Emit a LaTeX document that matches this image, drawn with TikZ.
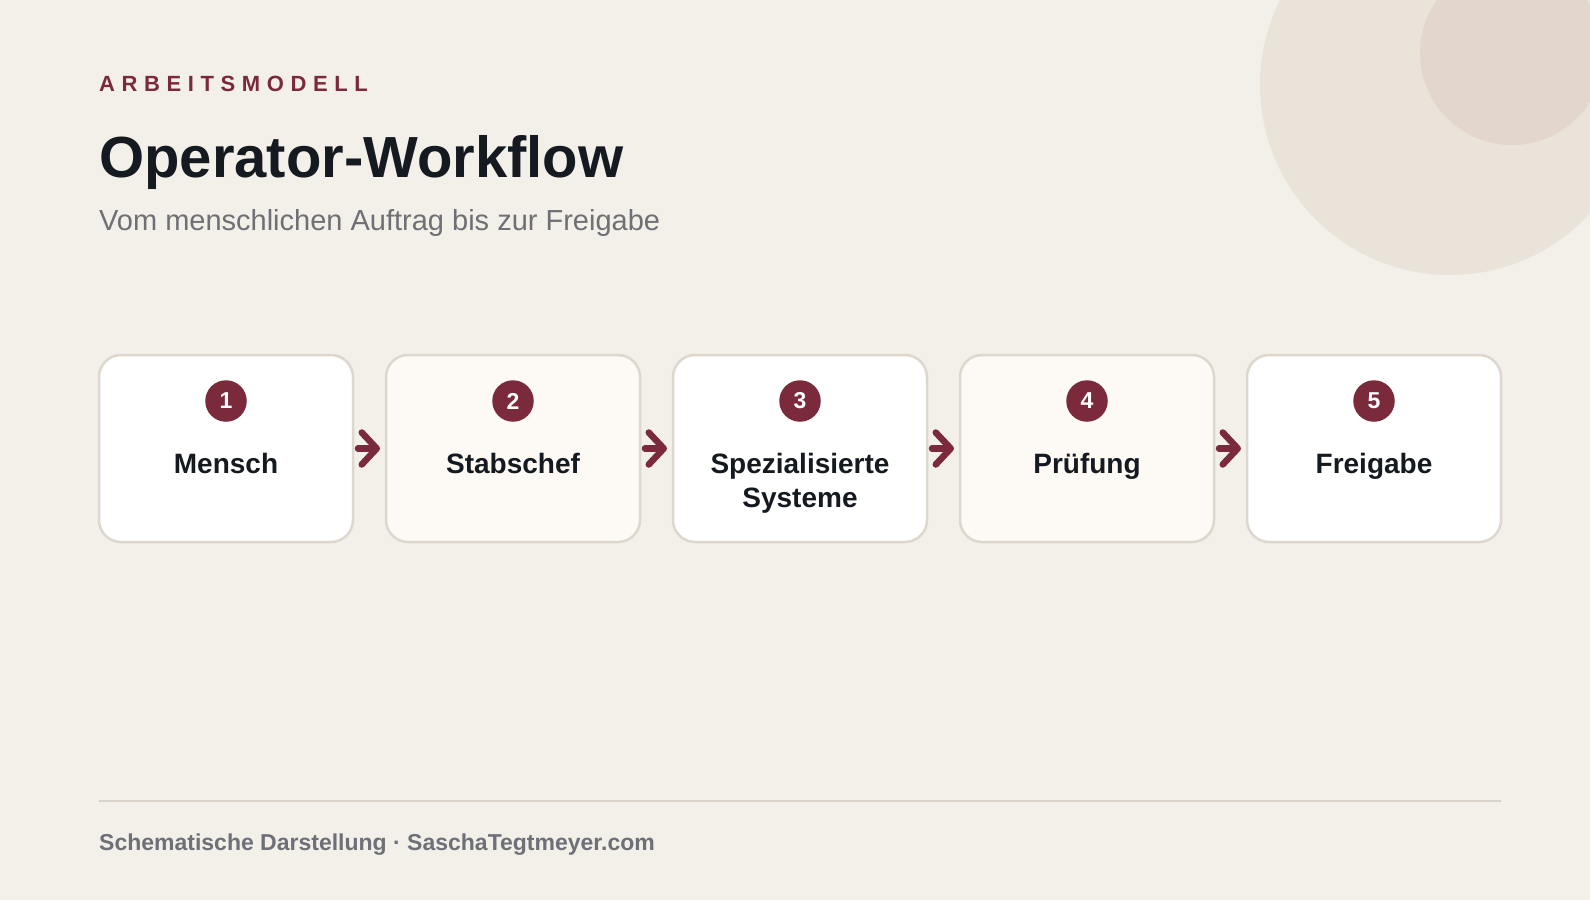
\documentclass[tikz,border=0pt]{standalone}
\usepackage{fontspec}
\setmainfont{Liberation Sans}
\newfontfamily\trackfont[LetterSpace=30]{Liberation Sans}
\usetikzlibrary{positioning,arrows.meta}

\definecolor{pagebg}{HTML}{F3F0EA}
\definecolor{blobbig}{HTML}{EAE3DA}
\definecolor{blobsmall}{HTML}{E2D6CD}
\definecolor{wine}{HTML}{7A2A3A}
\definecolor{ink}{HTML}{151A21}
\definecolor{subgray}{HTML}{6F6F74}
\definecolor{footgray}{HTML}{6E7077}
\definecolor{boxline}{HTML}{DED7CD}
\definecolor{boxwarm}{HTML}{FDFAF5}
\definecolor{rulecol}{HTML}{D8D2C8}

\tikzset{
  stepbox/.style={draw=boxline, line width=2.5pt, rounded corners=22pt,
    minimum width=254pt, minimum height=187pt, inner sep=0pt, outer sep=0pt},
  stepnum/.style={circle, fill=wine, text=white, minimum size=41.5pt, inner sep=0pt,
    font=\fontsize{23}{23}\selectfont\bfseries},
  steplabel/.style={text=ink, align=center, anchor=base,
    font=\fontsize{28}{34}\selectfont\bfseries},
  flowarrow/.style={draw=wine, line width=6.5pt, line cap=round,
    -{Straight Barb[length=15pt,width=32pt,round]}, shorten <=5pt, shorten >=6pt}
}

\begin{document}
\begin{tikzpicture}[x=1pt,y=-1pt]
  \useasboundingbox (0,0) rectangle (1590,900);
  \fill[pagebg] (0,0) rectangle (1590,900);
  % decoration top right
  \begin{scope}
    \clip (0,0) rectangle (1590,900);
    \fill[blobbig] (1450,85) circle[radius=190pt];
    \fill[blobsmall] (1512,53) circle[radius=92pt];
  \end{scope}

  % header
  \node[anchor=base west, inner sep=0pt, text=wine] (kicker) at (99,91)
    {\fontsize{22}{22}\selectfont\trackfont\bfseries ARBEITSMODELL};
  \node[anchor=base west, inner sep=0pt, text=ink] (title) at (99,177)
    {\fontsize{58}{58}\selectfont\bfseries Operator-Workflow};
  \node[anchor=base west, inner sep=0pt, text=subgray] (subtitle) at (99,230)
    {\fontsize{29}{29}\selectfont Vom menschlichen Auftrag bis zur Freigabe};

  % steps
  \node[stepbox, fill=white] (m1) at (226,448.5) {};
  \node[stepbox, fill=boxwarm, right=33pt of m1] (m2) {};
  \node[stepbox, fill=white, right=33pt of m2] (m3) {};
  \node[stepbox, fill=boxwarm, right=33pt of m3] (m4) {};
  \node[stepbox, fill=white, right=33pt of m4] (m5) {};

  \node[stepnum] (n1) at ([yshift=-46pt]m1.north) {1};
  \node[stepnum] (n2) at ([yshift=-46pt]m2.north) {2};
  \node[stepnum] (n3) at ([yshift=-46pt]m3.north) {3};
  \node[stepnum] (n4) at ([yshift=-46pt]m4.north) {4};
  \node[stepnum] (n5) at ([yshift=-46pt]m5.north) {5};

  \node[steplabel] (l1) at ([yshift=-118pt]m1.north) {Mensch};
  \node[steplabel] (l2) at ([yshift=-118pt]m2.north) {Stabschef};
  \node[steplabel] (l3) at ([yshift=-152pt]m3.north) {Spezialisierte\\Systeme};
  \node[steplabel] (l4) at ([yshift=-118pt]m4.north) {Prüfung};
  \node[steplabel] (l5) at ([yshift=-118pt]m5.north) {Freigabe};

  \draw[flowarrow] (m1) -- (m2);
  \draw[flowarrow] (m2) -- (m3);
  \draw[flowarrow] (m3) -- (m4);
  \draw[flowarrow] (m4) -- (m5);

  % footer
  \coordinate (ruleL) at (99,801);
  \coordinate (ruleR) at (1501,801);
  \draw[rulecol, line width=1.5pt] (ruleL) -- (ruleR);
  \node[anchor=base west, inner sep=0pt, text=footgray] (footer) at (99,850)
    {\fontsize{23}{23}\selectfont\bfseries Schematische Darstellung · SaschaTegtmeyer.com};
\end{tikzpicture}
\end{document}
